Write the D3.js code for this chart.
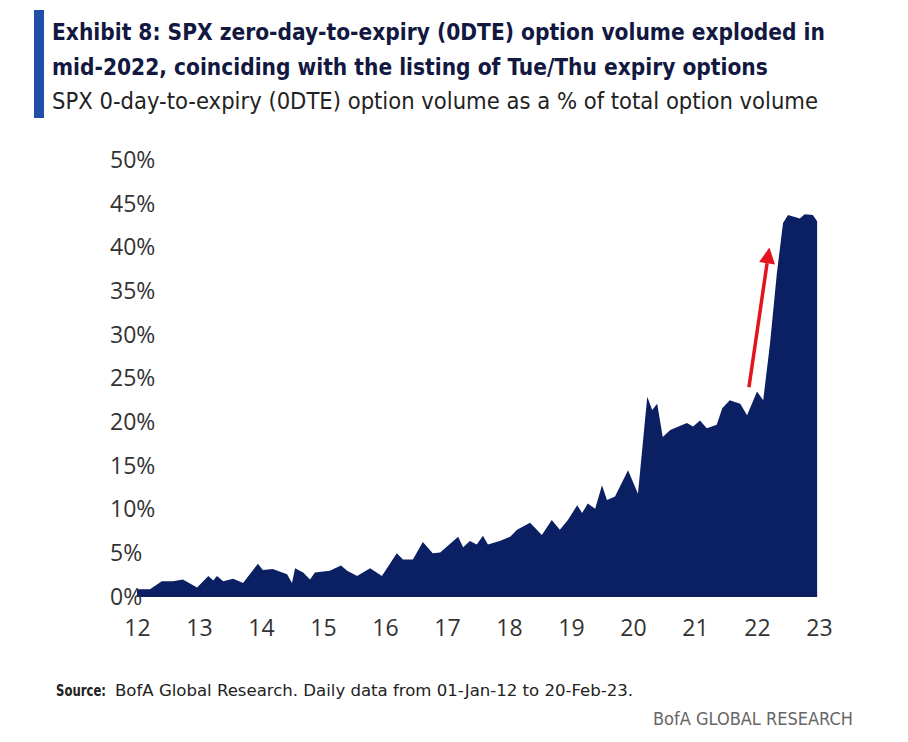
<!DOCTYPE html>
<html><head><meta charset="utf-8">
<script src="https://cdn.jsdelivr.net/npm/d3@7"></script>
<style>body{margin:0;background:#fff}</style>
</head><body>
<svg id="c" width="908" height="742"></svg>
<script>
const years = [12.00,12.21,12.40,12.58,12.74,12.97,13.15,13.23,13.29,13.39,13.55,13.71,13.95,14.03,14.19,14.42,14.50,14.55,14.68,14.79,14.87,15.11,15.29,15.39,15.55,15.76,15.95,16.19,16.29,16.45,16.61,16.77,16.89,17.18,17.26,17.37,17.48,17.58,17.66,17.85,18.02,18.13,18.34,18.53,18.69,18.82,18.95,19.10,19.18,19.27,19.39,19.50,19.58,19.71,19.92,20.08,20.23,20.31,20.39,20.48,20.60,20.87,20.97,21.08,21.19,21.35,21.44,21.56,21.73,21.84,22.00,22.10,22.21,22.32,22.42,22.50,22.69,22.77,22.90,22.97];
const share = [0.9,0.9,1.8,1.8,2.0,1.1,2.4,1.9,2.4,1.8,2.1,1.6,3.8,3.1,3.2,2.6,1.6,3.3,2.8,2.0,2.8,3.0,3.6,3.0,2.4,3.3,2.4,5.0,4.3,4.3,6.3,5.0,5.1,6.9,5.7,6.4,6.0,7.0,6.0,6.4,6.9,7.7,8.5,7.1,8.8,7.7,8.8,10.5,9.6,10.7,10.1,12.8,11.1,11.5,14.5,11.8,22.9,21.4,22.1,18.3,19.1,19.9,19.5,20.2,19.3,19.7,21.6,22.5,22.1,20.8,23.5,22.5,29.0,37.0,42.8,43.7,43.3,43.8,43.7,43.0];
const yTicks = [0,5,10,15,20,25,30,35,40,45,50];
const xTicks = [12,13,14,15,16,17,18,19,20,21,22,23];
const arrowFrom = [21.87, 24.0], arrowTo = [22.2, 40.0];

const svg = d3.select("#c");
const x = d3.scaleLinear().domain([12,23]).range([137,819]);
const y = d3.scaleLinear().domain([0,50]).range([597,160]);
const navy="#0b1f63";

svg.append("rect").attr("x",34).attr("y",10).attr("width",10).attr("height",108).attr("fill","#1f4fa8");
const tf="'DejaVu Sans Condensed','DejaVu Sans',sans-serif";
const lf="'Open Sans',sans-serif";
svg.append("text").attr("x",52).attr("y",40).attr("font-family",tf).attr("font-weight","bold").attr("font-size",22.5).attr("fill","#12183f")
  .text("Exhibit 8: SPX zero-day-to-expiry (0DTE) option volume exploded in");
svg.append("text").attr("x",52).attr("y",75).attr("font-family",tf).attr("font-weight","bold").attr("font-size",22.5).attr("fill","#12183f")
  .text("mid-2022, coinciding with the listing of Tue/Thu expiry options");
svg.append("text").attr("x",52).attr("y",109).attr("font-family",tf).attr("font-size",23).attr("fill","#222")
  .attr("textLength",766).attr("lengthAdjust","spacingAndGlyphs")
  .text("SPX 0-day-to-expiry (0DTE) option volume as a % of total option volume");

const data = years.map((d,i)=>({x:d,v:share[i]}));
svg.append("path").datum(data).attr("fill",navy)
  .attr("d",d3.area().x(d=>x(d.x)).y0(y(0)).y1(d=>y(d.v)));

const ya = svg.append("g").attr("transform","translate(110,0)")
  .call(d3.axisLeft(y).tickValues(yTicks).tickFormat(d=>d+"%").tickSize(0).tickPadding(0));
ya.select(".domain").remove();
ya.selectAll("text").attr("font-family",lf).attr("font-size",23).attr("fill","#333").attr("text-anchor","start");

const xa = svg.append("g").attr("transform","translate(0,620)")
  .call(d3.axisBottom(x).tickValues(xTicks).tickFormat(d=>d).tickSize(0).tickPadding(0));
xa.select(".domain").remove();
xa.selectAll("text").attr("font-family",lf).attr("font-size",23).attr("fill","#333").attr("dy","0.71em");

const ax1=x(arrowFrom[0]), ay1=y(arrowFrom[1]), ax2=x(arrowTo[0]), ay2=y(arrowTo[1]);
const ang=Math.atan2(ay2-ay1,ax2-ax1), hl=16, hw=8;
const bx=ax2-hl*Math.cos(ang), by=ay2-hl*Math.sin(ang);
svg.append("line").attr("x1",ax1).attr("y1",ay1).attr("x2",bx).attr("y2",by).attr("stroke","#e3141b").attr("stroke-width",3.5);
svg.append("path").attr("fill","#e3141b").attr("d",`M${ax2},${ay2}L${bx+hw*Math.sin(ang)},${by-hw*Math.cos(ang)}L${bx-hw*Math.sin(ang)},${by+hw*Math.cos(ang)}Z`);

svg.append("text").attr("x",56).attr("y",696).attr("font-family",tf).attr("font-weight","bold").attr("font-size",16).attr("fill","#222")
  .attr("textLength",50).attr("lengthAdjust","spacingAndGlyphs").text("Source:");
svg.append("text").attr("x",115).attr("y",696).attr("font-family",tf).attr("font-size",16).attr("fill","#222")
  .attr("textLength",518).attr("lengthAdjust","spacingAndGlyphs").text("BofA Global Research. Daily data from 01-Jan-12 to 20-Feb-23.");
svg.append("text").attr("x",853).attr("y",725).attr("text-anchor","end").attr("font-family",tf).attr("font-size",17).attr("fill","#666")
  .attr("textLength",200).attr("lengthAdjust","spacingAndGlyphs").text("BofA GLOBAL RESEARCH");
</script>
</body></html>
